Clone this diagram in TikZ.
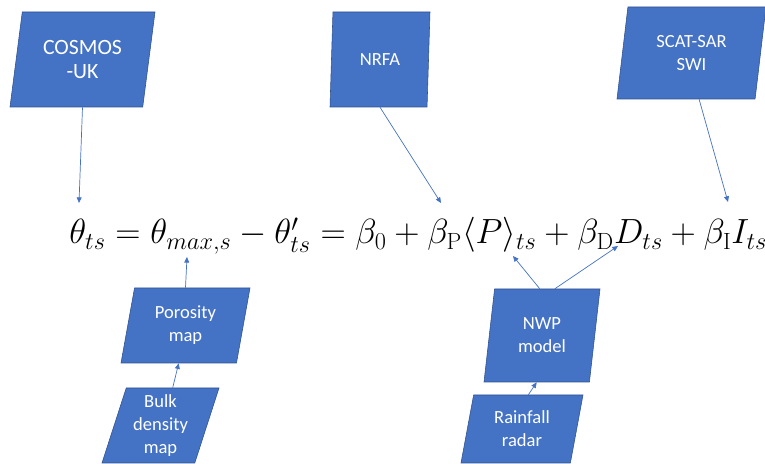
\documentclass[tikz,border=0pt]{standalone}
\usepackage{fontspec}
\usepackage{amsmath}
\usetikzlibrary{arrows.meta,calc,shapes.geometric}
\newfontfamily\calibfont{Carlito}
\definecolor{OfficeBlue}{RGB}{68,114,196}
\definecolor{OfficeEdge}{RGB}{47,82,143}
\DeclareMathSizes{26.5}{26.5}{16.7}{12}

\begin{document}
\begin{tikzpicture}[
  datasrc/.style={trapezium,trapezium stretches body,fill=OfficeBlue,draw=OfficeEdge,
    line width=.4pt,text=white,align=center,inner sep=1pt,
    font=\calibfont\fontsize{13.2}{16.4}\selectfont},
  feed/.style={draw=OfficeBlue,line width=.5pt,-{Triangle[length=4pt,width=3.5pt]}}
]
  \useasboundingbox (0,0) rectangle (19.125,11.6);
  % inputs above the equation
  \node[datasrc,trapezium left angle=73,trapezium right angle=107,
    minimum width=3.625cm,minimum height=2.375cm,
    font=\calibfont\fontsize{15.5}{16.4}\selectfont] (cosmos) at (2.0625,10.1125) {COSMOS\\-UK};
  \node[datasrc,trapezium left angle=78.7,trapezium right angle=101.3,
    minimum width=2.5cm,minimum height=2.375cm] (nrfa) at (9.5,10.1125) {NRFA};
  \node[datasrc,trapezium left angle=74,trapezium right angle=106,
    minimum width=3.725cm,minimum height=2.3cm] (scat) at (17.2875,10.275) {SCAT-SAR\\SWI};
  % inputs below the equation
  \node[datasrc,trapezium left angle=72,trapezium right angle=108,
    minimum width=3.225cm,minimum height=1.875cm] (poro) at (4.6375,3.4625) {Porosity\\map};
  \node[datasrc,trapezium left angle=69.5,trapezium right angle=110.5,
    minimum width=2.925cm,minimum height=1.875cm] (bulk) at (4.0125,0.9625) {Bulk\\density\\map};
  \node[datasrc,trapezium left angle=74.4,trapezium right angle=105.6,
    minimum width=2.9cm,minimum height=2.325cm] (nwp) at (13.55,3.2125) {NWP\\model};
  \node[datasrc,trapezium left angle=72,trapezium right angle=108,
    minimum width=3.05cm,minimum height=1.7cm] (rain) at (13.05,0.875) {Rainfall\\radar};

  % the equation
  \node[anchor=base west,inner sep=0pt] (eq) at (1.725,5.5) {\fontsize{26.5}{32}\selectfont
    $\theta_{ts}=\theta_{max,s}-\theta'_{ts}=\beta_0+\beta_{\mathrm{P}}\langle P\rangle_{ts}
    +\beta_{\mathrm{D}}D_{ts}+\beta_{\mathrm{I}}I_{ts}$};
  \coordinate (thetats) at (1.975,6.525);
  \coordinate (thetamax) at (4.675,5.175);
  \coordinate (betap) at (11.025,6.525);
  \coordinate (meanp) at (12.825,5.2);
  \coordinate (dts) at (15.45,5.45);
  \coordinate (its) at (18.2,6.55);

  \draw[feed] (cosmos.south) -- (thetats);
  \draw[feed] (nrfa.south) -- (betap);
  \draw[feed] ($(scat.south)+(.19,0)$) -- (its);
  \draw[feed] (poro.north) -- (thetamax);
  \draw[feed] (bulk.top side) -- (poro.bottom side);
  \draw[feed] ($(nwp.top side)+(-.19,0)$) -- (meanp);
  \draw[feed] ($(nwp.top side)+(.19,0)$) -- (dts);
  \draw[feed] (rain.top side) -- (nwp.bottom side);
\end{tikzpicture}
\end{document}
